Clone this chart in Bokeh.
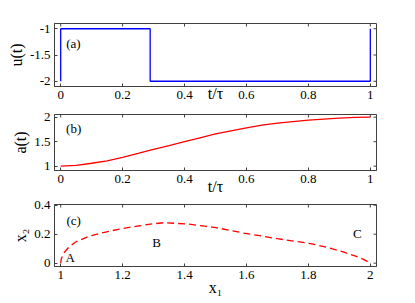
import math
from bokeh.plotting import figure
from bokeh.models import FixedTicker, Range1d, Label
from bokeh.layouts import column
from bokeh.embed import file_html
from bokeh.resources import INLINE

# ---- data ----
t_u = [0, 0, 0.289, 0.289, 1, 1]
u_vals = [-2, -1, -1, -2, -2, -1]

t_a = [0, 0.05, 0.1, 0.15, 0.2, 0.25, 0.29, 0.35, 0.4, 0.45, 0.5,
       0.55, 0.6, 0.65, 0.7, 0.75, 0.8, 0.85, 0.9, 0.95, 1.0]
a_vals = [1.0, 1.015, 1.06, 1.11, 1.18, 1.26, 1.33, 1.42, 1.50, 1.58, 1.66,
          1.72, 1.78, 1.84, 1.88, 1.91, 1.94, 1.96, 1.98, 1.995, 2.0]

x1_vals = [1.0, 1.002, 1.01, 1.026, 1.048, 1.09, 1.145, 1.198, 1.252, 1.30, 1.335,
           1.414, 1.5, 1.591, 1.70, 1.807, 1.86, 1.915, 1.95, 1.975, 1.99, 2.0]
x2_vals = [0, 0.03, 0.07, 0.11, 0.146, 0.185, 0.215, 0.239, 0.257, 0.272, 0.28,
           0.269, 0.246, 0.208, 0.169, 0.135, 0.11, 0.076, 0.05, 0.03, 0.012, 0]

t_ticks = [0, 0.2, 0.4, 0.6, 0.8, 1]
t_tick_labels = ["0", "0.2", "0.4", "0.6", "0.8", "1"]
u_ticks = [-2, -1.5, -1]
u_tick_labels = ["-2", "-1.5", "-1"]
a_ticks = [1, 1.5, 2]
a_tick_labels = ["1", "1.5", "2"]
x1_ticks = [1, 1.2, 1.4, 1.6, 1.8, 2]
x1_tick_labels = ["1", "1.2", "1.4", "1.6", "1.8", "2"]
x2_ticks = [0, 0.2, 0.4]
x2_tick_labels = ["0", "0.2", "0.4"]

FONT = "Liberation Serif"
TICK_FS = "13px"
LABEL_FS = "16px"
FRAME = "#404040"


def style_axis(ax, ticks, labels):
    ax.ticker = FixedTicker(ticks=ticks)
    ax.major_label_overrides = {t: l for t, l in zip(ticks, labels)}
    ax.axis_line_color = FRAME
    ax.major_tick_line_color = FRAME
    ax.major_tick_in = 3
    ax.major_tick_out = 0
    ax.minor_tick_line_color = None
    ax.major_label_text_font = FONT
    ax.major_label_text_color = "black"
    ax.major_label_text_font_size = TICK_FS
    ax.major_label_standoff = 4
    ax.axis_label_text_font = FONT
    ax.axis_label_text_font_size = LABEL_FS
    ax.axis_label_text_font_style = "normal"
    ax.axis_label_text_color = "black"


def make_fig(height, top, bottom, xr, yr, xt, xl, yt, yl, xlabel, ylabel, xstand):
    p = figure(width=405, height=height, x_range=Range1d(*xr), y_range=Range1d(*yr),
               output_backend="svg", toolbar_location=None,
               min_border_left=54, min_border_right=29,
               min_border_top=top, min_border_bottom=bottom)
    p.grid.visible = False
    p.outline_line_color = FRAME
    p.outline_line_width = 1
    style_axis(p.xaxis[0], xt, xl)
    style_axis(p.yaxis[0], yt, yl)
    p.yaxis[0].axis_label = ylabel
    p.yaxis[0].axis_label_standoff = 2
    p.xaxis[0].axis_label = xlabel
    p.xaxis[0].axis_label_standoff = xstand
    # mirrored inward ticks on the top and right edges of the frame
    p.scatter(xt, [yr[1]] * len(xt), marker="dash", size=6, angle=math.pi / 2,
              line_color=FRAME, line_width=1)
    p.scatter([xr[1]] * len(yt), yt, marker="dash", size=6, angle=0,
              line_color=FRAME, line_width=1)
    return p


def text_label(p, x, y, s, size=TICK_FS):
    p.add_layout(Label(x=x, y=y, text=s, text_align="center", text_baseline="middle",
                       text_font=FONT, text_font_size=size, text_color="black"))


# (a)
pa = make_fig(107, 23, 21, (-0.02, 1.02), (-2.1, -0.9), t_ticks, t_tick_labels,
              u_ticks, u_tick_labels, "t/τ", "u(t)", -17)
pa.line(t_u, u_vals, line_color="#0000ff", line_width=1.3)
text_label(pa, 0.041, -1.287, "(a)")

# (b)
pb = make_fig(91, 7, 28, (-0.02, 1.02), (0.912, 2.055), t_ticks, t_tick_labels,
              a_ticks, a_tick_labels, "t/τ", "a(t)", -8)
pb.line(t_a, a_vals, line_color="#ff0000", line_width=1.3)
text_label(pb, 0.042, 1.76, "(b)")

# (c)
pc = make_fig(102, 6, 34, (0.98, 2.02), (-0.023, 0.405), x1_ticks, x1_tick_labels,
              x2_ticks, x2_tick_labels, "x₁", "x₂", -3)
pc.line(x1_vals, x2_vals, line_color="#ff0000", line_width=1.3, line_dash="7 4")
text_label(pc, 1.042, 0.297, "(c)")
text_label(pc, 1.031, 0.04, "A")
text_label(pc, 1.31, 0.146, "B")
text_label(pc, 1.958, 0.204, "C")

layout = column(pa, pb, pc)
open("out.html", "w").write(file_html(layout, INLINE))
